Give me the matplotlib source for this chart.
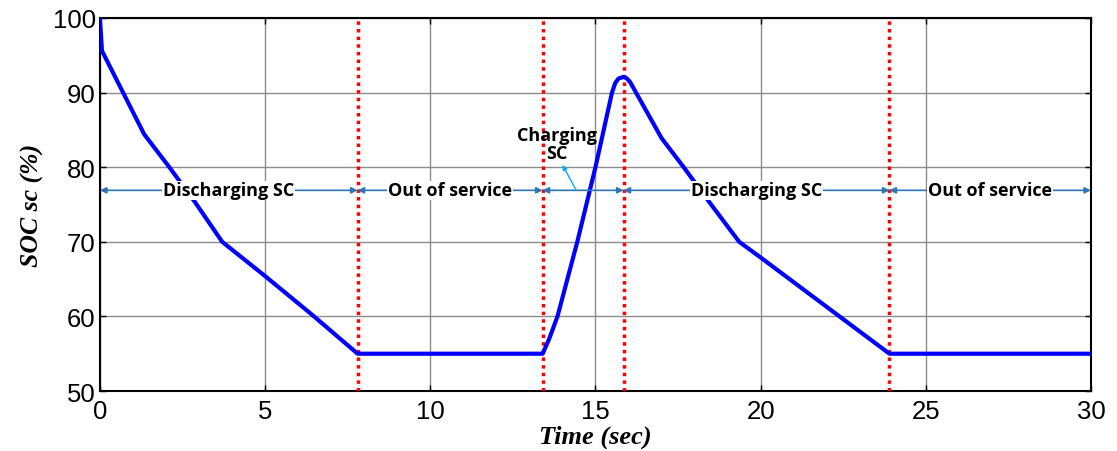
import matplotlib
matplotlib.use("Agg")
import matplotlib.pyplot as plt

# State of charge of the supercapacitor over time
time_s = [0.0, 0.06, 0.7, 1.34, 2.1, 2.88, 3.7, 5.0, 6.4, 7.8,
          13.4, 13.5, 13.6, 13.85, 14.15, 14.45, 15.0, 15.5, 15.6, 15.7,
          15.85, 15.95, 16.05, 17.0, 17.67, 18.5, 19.35, 20.03, 21.6, 23.9, 30.0]
soc_pct = [100.0, 95.6, 90.0, 84.4, 80.0, 75.3, 70.0, 65.4, 60.3, 55.0,
           55.0, 56.0, 57.0, 60.0, 65.0, 70.0, 80.0, 90.0, 91.3, 91.9,
           92.1, 91.9, 91.4, 83.9, 80.0, 75.0, 70.0, 67.8, 62.6, 55.0, 55.0]

# Mode switching instants
switch_times = [7.8, 13.4, 15.85, 23.9]

# Operating phases: (start, end, label)
phase_starts = [0.0, 7.8, 15.85, 23.9]
phase_ends = [7.8, 13.4, 23.9, 30.0]
phase_labels = ["Discharging SC", "Out of service", "Discharging SC", "Out of service"]
charging_label = "Charging\nSC"
charging_span = (13.4, 15.85)

x_ticks = [0, 5, 10, 15, 20, 25, 30]
y_ticks = [50, 60, 70, 80, 90, 100]

fig = plt.figure(figsize=(11.17, 4.52), dpi=100)
ax = fig.add_axes([0.0895, 0.1327, 0.8872, 0.8253])

ax.set_xlim(0, 30)
ax.set_ylim(50, 100)
ax.set_xticks(x_ticks)
ax.set_yticks(y_ticks)
ax.grid(True, color="#8c8c8c", linewidth=1.0)
ax.set_axisbelow(True)
ax.tick_params(direction="in", length=4, width=1, top=True, right=True,
               labelsize=18.5)
ax.tick_params(axis="x", pad=6)
ax.tick_params(axis="y", pad=3)
for lbl in ax.get_xticklabels() + ax.get_yticklabels():
    lbl.set_fontfamily("Liberation Sans")
for sp in ax.spines.values():
    sp.set_linewidth(1.5)

# Switching instants
for ts in switch_times:
    ax.axvline(ts, color="#ff0000", linestyle=(0, (1, 1.2)), linewidth=2.5, zorder=3)

# SOC curve
ax.plot(time_s, soc_pct, color="#0000ff", linewidth=3.0, zorder=4)

# Phase arrows
arrow_y = 76.9
arrow_color = "#2e75b6"
arrow_kw = dict(arrowstyle="<|-|>", color=arrow_color, lw=1.2,
                mutation_scale=9, shrinkA=0, shrinkB=0)
for t0, t1 in zip(phase_starts, phase_ends):
    ax.annotate("", xy=(t0, arrow_y), xytext=(t1, arrow_y),
                arrowprops=arrow_kw, zorder=5)
ax.annotate("", xy=(charging_span[0], arrow_y), xytext=(charging_span[1], arrow_y),
            arrowprops=arrow_kw, zorder=5)
for t0, t1, text in zip(phase_starts, phase_ends, phase_labels):
    ax.text((t0 + t1) / 2, arrow_y, text, ha="center", va="center",
            fontsize=13, fontweight="bold", family="Open Sans",
            bbox=dict(facecolor="white", edgecolor="none", pad=0.5), zorder=6)

# Charging label with pointer
ax.text(13.83, 83.1, charging_label, ha="center", va="center",
        fontsize=13, fontweight="bold", family="Open Sans", linespacing=1.05, zorder=6)
ax.annotate("", xy=(14.0, 80.3), xytext=(14.42, arrow_y),
            arrowprops=dict(arrowstyle="-|>", color="#00b0f0", lw=1.0,
                            mutation_scale=7, shrinkA=0, shrinkB=0), zorder=6)

ax.set_xlabel("Time (sec)", family="Liberation Serif", fontstyle="italic",
              fontweight="bold", fontsize=19, labelpad=1)
ax.set_ylabel("SOC sc (%)", family="Liberation Serif", fontstyle="italic",
              fontweight="bold", fontsize=18.5, labelpad=6)

fig.savefig("out.png", dpi=100)
